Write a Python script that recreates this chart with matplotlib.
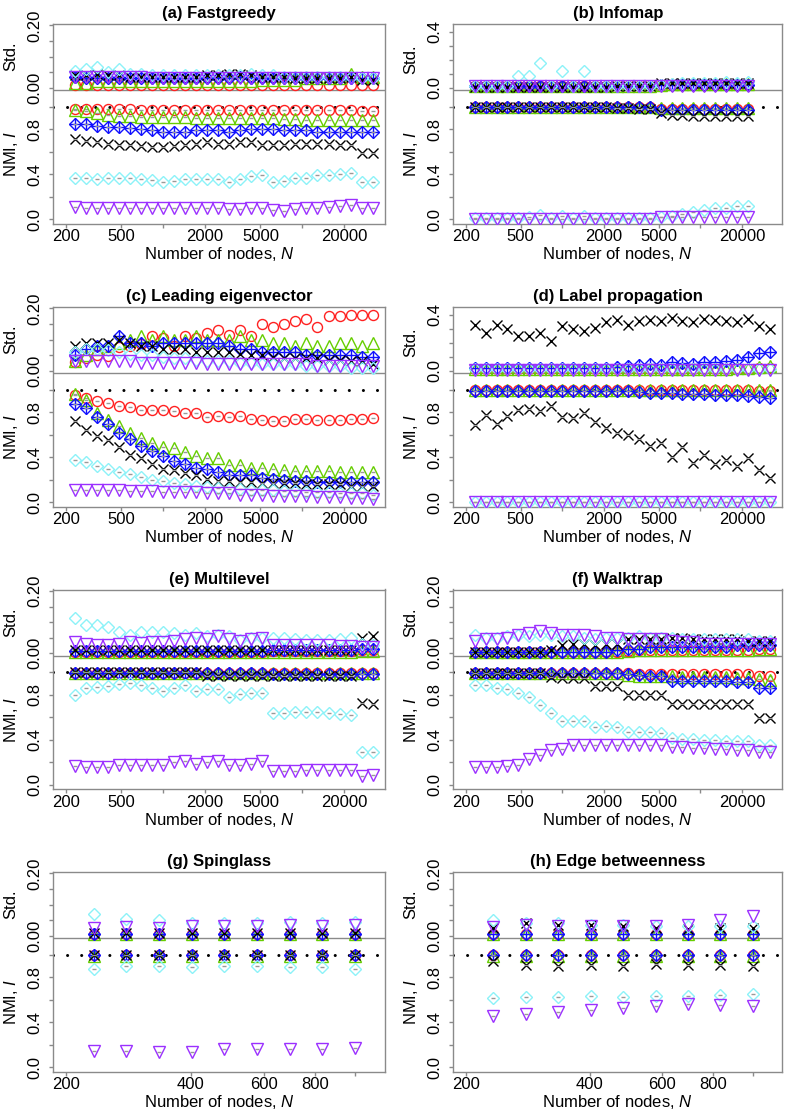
import matplotlib
matplotlib.use("Agg")
import matplotlib.pyplot as plt
import matplotlib.transforms as mtransforms
from matplotlib.ticker import NullLocator

plt.rcParams["font.family"] = "Liberation Sans"
plt.rcParams["mathtext.fontset"] = "custom"
plt.rcParams["mathtext.rm"] = "Liberation Sans"
plt.rcParams["mathtext.it"] = "Liberation Sans:italic"

# -----------------------------
# Data (series order: red, green, blue, black, cyan, purple)
# -----------------------------

n_large = [233, 279, 335, 402, 482, 579, 694, 833, 1000, 1200, 1440, 1728, 2074,
           2488, 2986, 3583, 4300, 5160, 6192, 7430, 8916, 10699, 12839, 15407,
           18488, 22186, 26623, 31948]
n_small = [233, 279, 335, 402, 482, 579, 694, 833, 1000]

fastgreedy_nmi = [
    [0.98, 0.98, 0.98, 0.98, 0.98, 0.98, 0.975, 0.975, 0.975, 0.975, 0.975, 0.975, 0.97, 0.97,
     0.97, 0.97, 0.97, 0.97, 0.97, 0.97, 0.97, 0.97, 0.97, 0.97, 0.97, 0.97, 0.965, 0.965],
    [0.97, 0.96, 0.94, 0.93, 0.92, 0.92, 0.91, 0.91, 0.91, 0.91, 0.91, 0.90, 0.90, 0.90,
     0.90, 0.90, 0.90, 0.90, 0.90, 0.89, 0.89, 0.88, 0.88, 0.88, 0.88, 0.88, 0.88, 0.88],
    [0.85, 0.85, 0.83, 0.82, 0.82, 0.81, 0.80, 0.79, 0.78, 0.78, 0.78, 0.79, 0.79, 0.79,
     0.78, 0.79, 0.80, 0.80, 0.80, 0.79, 0.79, 0.79, 0.78, 0.78, 0.78, 0.78, 0.78, 0.78],
    [0.71, 0.70, 0.69, 0.67, 0.66, 0.66, 0.65, 0.64, 0.64, 0.65, 0.66, 0.67, 0.69, 0.67,
     0.67, 0.69, 0.69, 0.66, 0.66, 0.66, 0.67, 0.67, 0.67, 0.67, 0.66, 0.66, 0.59, 0.59],
    [0.37, 0.365, 0.36, 0.37, 0.37, 0.365, 0.355, 0.35, 0.335, 0.345, 0.355, 0.355, 0.36, 0.36,
     0.335, 0.36, 0.385, 0.39, 0.335, 0.345, 0.365, 0.37, 0.39, 0.395, 0.40, 0.41, 0.335, 0.335],
    [0.11, 0.105, 0.10, 0.10, 0.105, 0.105, 0.10, 0.10, 0.10, 0.10, 0.105, 0.10, 0.10, 0.10,
     0.095, 0.095, 0.10, 0.10, 0.08, 0.075, 0.09, 0.10, 0.10, 0.11, 0.12, 0.13, 0.10, 0.10],
]
fastgreedy_std = [
    [0.008, 0.008, 0.008, 0.008, 0.008, 0.008, 0.008, 0.008, 0.008, 0.008, 0.008, 0.008, 0.008, 0.008,
     0.008, 0.008, 0.008, 0.008, 0.008, 0.008, 0.008, 0.008, 0.008, 0.008, 0.008, 0.008, 0.008, 0.008],
    [0.015, 0.015, 0.02, 0.02, 0.02, 0.02, 0.02, 0.02, 0.02, 0.02, 0.02, 0.02, 0.02, 0.02,
     0.02, 0.02, 0.02, 0.025, 0.025, 0.025, 0.025, 0.03, 0.03, 0.03, 0.03, 0.045, 0.035, 0.035],
    [0.035, 0.03, 0.03, 0.03, 0.03, 0.03, 0.03, 0.03, 0.03, 0.03, 0.03, 0.03, 0.03, 0.03,
     0.03, 0.035, 0.03, 0.03, 0.03, 0.03, 0.03, 0.03, 0.03, 0.03, 0.03, 0.03, 0.03, 0.03],
    [0.04, 0.04, 0.045, 0.04, 0.04, 0.035, 0.035, 0.035, 0.035, 0.035, 0.035, 0.035, 0.04, 0.04,
     0.045, 0.045, 0.04, 0.035, 0.035, 0.035, 0.03, 0.03, 0.03, 0.03, 0.03, 0.035, 0.025, 0.025],
    [0.055, 0.06, 0.068, 0.05, 0.06, 0.045, 0.045, 0.04, 0.04, 0.04, 0.04, 0.04, 0.04, 0.04,
     0.04, 0.04, 0.045, 0.04, 0.04, 0.035, 0.035, 0.035, 0.035, 0.035, 0.035, 0.035, 0.03, 0.03],
    [0.035, 0.035, 0.033, 0.033, 0.033, 0.033, 0.033, 0.03, 0.03, 0.03, 0.03, 0.03, 0.03, 0.03,
     0.03, 0.03, 0.03, 0.03, 0.03, 0.03, 0.03, 0.03, 0.03, 0.03, 0.03, 0.03, 0.03, 0.03],
]

infomap_nmi = [
    [1.0, 1.0, 1.0, 1.0, 1.0, 1.0, 1.0, 1.0, 1.0, 1.0, 1.0, 1.0, 1.0, 1.0, 1.0, 1.0, 1.0,
     0.98, 0.98, 0.98, 0.98, 0.98, 0.98, 0.98, 0.98, 0.98],
    [0.995, 0.995, 0.995, 0.995, 0.995, 0.995, 0.995, 0.995, 0.995, 0.995, 0.995, 0.995, 0.995,
     0.995, 0.995, 0.995, 0.995, 0.985, 0.985, 0.985, 0.985, 0.985, 0.985, 0.985, 0.985, 0.985],
    [1.0, 1.0, 1.0, 1.0, 1.0, 1.0, 1.0, 1.0, 1.0, 1.0, 1.0, 1.0, 1.0, 1.0, 1.0, 1.0, 1.0,
     0.975, 0.975, 0.975, 0.975, 0.975, 0.975, 0.975, 0.975, 0.975],
    [1.0, 1.0, 1.0, 1.0, 1.0, 1.0, 1.0, 1.0, 1.0, 1.0, 1.0, 1.0, 1.0, 0.99, 0.985, 0.98, 0.98,
     0.94, 0.93, 0.93, 0.92, 0.92, 0.92, 0.92, 0.92, 0.92],
    [0.01, 0.01, 0.01, 0.01, 0.015, 0.02, 0.04, 0.01, 0.03, 0.01, 0.03, 0.01, 0.01, 0.01,
     0.01, 0.01, 0.01, 0.02, 0.03, 0.05, 0.065, 0.085, 0.10, 0.10, 0.115, 0.115],
    [0.005, 0.005, 0.005, 0.005, 0.005, 0.005, 0.005, 0.005, 0.005, 0.005, 0.005, 0.005, 0.005,
     0.005, 0.005, 0.005, 0.005, 0.025, 0.025, 0.025, 0.025, 0.025, 0.025, 0.025, 0.025, 0.025],
]
infomap_std = [
    [0.01, 0.01, 0.01, 0.01, 0.01, 0.01, 0.01, 0.01, 0.01, 0.01, 0.01, 0.01, 0.01, 0.01, 0.01,
     0.01, 0.01, 0.02, 0.02, 0.02, 0.02, 0.02, 0.02, 0.02, 0.02, 0.02],
    [0.01, 0.01, 0.01, 0.01, 0.01, 0.01, 0.01, 0.01, 0.01, 0.01, 0.01, 0.01, 0.01, 0.01, 0.01,
     0.01, 0.01, 0.02, 0.025, 0.025, 0.025, 0.025, 0.025, 0.025, 0.025, 0.025],
    [0.015, 0.015, 0.015, 0.015, 0.015, 0.015, 0.015, 0.015, 0.015, 0.015, 0.015, 0.015, 0.015,
     0.015, 0.015, 0.015, 0.015, 0.02, 0.02, 0.02, 0.02, 0.02, 0.02, 0.02, 0.02, 0.02],
    [0.005, 0.005, 0.005, 0.005, 0.005, 0.005, 0.005, 0.005, 0.005, 0.005, 0.005, 0.005, 0.005,
     0.01, 0.01, 0.015, 0.015, 0.03, 0.03, 0.03, 0.03, 0.03, 0.03, 0.03, 0.03, 0.03],
    [0.015, 0.015, 0.015, 0.015, 0.083, 0.083, 0.174, 0.015, 0.12, 0.015, 0.12, 0.015, 0.015,
     0.015, 0.015, 0.015, 0.015, 0.02, 0.025, 0.03, 0.03, 0.035, 0.035, 0.04, 0.035, 0.04],
    [0.01, 0.01, 0.01, 0.01, 0.01, 0.01, 0.01, 0.01, 0.01, 0.01, 0.01, 0.01, 0.01, 0.01, 0.01,
     0.01, 0.01, 0.015, 0.015, 0.015, 0.015, 0.015, 0.015, 0.015, 0.015, 0.015],
]

eigen_nmi = [
    [0.95, 0.93, 0.90, 0.88, 0.86, 0.85, 0.82, 0.82, 0.82, 0.81, 0.795, 0.79, 0.76, 0.77,
     0.76, 0.77, 0.74, 0.73, 0.725, 0.725, 0.74, 0.74, 0.735, 0.735, 0.735, 0.74, 0.74, 0.745],
    [0.96, 0.91, 0.79, 0.73, 0.68, 0.62, 0.57, 0.53, 0.49, 0.48, 0.45, 0.41, 0.39, 0.39,
     0.33, 0.33, 0.31, 0.31, 0.30, 0.29, 0.28, 0.28, 0.28, 0.28, 0.27, 0.27, 0.27, 0.27],
    [0.87, 0.84, 0.76, 0.70, 0.62, 0.56, 0.50, 0.46, 0.415, 0.37, 0.34, 0.31, 0.30, 0.27,
     0.24, 0.24, 0.24, 0.22, 0.21, 0.20, 0.19, 0.19, 0.18, 0.18, 0.18, 0.18, 0.18, 0.18],
    [0.72, 0.64, 0.59, 0.55, 0.49, 0.42, 0.39, 0.34, 0.30, 0.29, 0.26, 0.24, 0.21, 0.19,
     0.19, 0.18, 0.18, 0.17, 0.17, 0.17, 0.17, 0.16, 0.16, 0.16, 0.16, 0.15, 0.15, 0.15],
    [0.38, 0.36, 0.32, 0.30, 0.27, 0.25, 0.23, 0.20, 0.19, 0.17, 0.16, 0.15, 0.14, 0.13,
     0.12, 0.12, 0.11, 0.11, 0.11, 0.10, 0.10, 0.09, 0.09, 0.09, 0.08, 0.08, 0.08, 0.07],
    [0.11, 0.11, 0.11, 0.11, 0.11, 0.10, 0.10, 0.10, 0.09, 0.09, 0.09, 0.09, 0.08, 0.08,
     0.08, 0.07, 0.07, 0.07, 0.06, 0.06, 0.06, 0.06, 0.05, 0.05, 0.05, 0.04, 0.04, 0.03],
]
eigen_std = [
    [0.027, 0.042, 0.05, 0.048, 0.075, 0.08, 0.085, 0.11, 0.105, 0.08, 0.11, 0.105, 0.12, 0.13,
     0.115, 0.13, 0.11, 0.15, 0.14, 0.15, 0.16, 0.165, 0.14, 0.175, 0.175, 0.18, 0.18, 0.18],
    [0.03, 0.05, 0.07, 0.08, 0.09, 0.10, 0.11, 0.10, 0.11, 0.10, 0.10, 0.11, 0.10, 0.10,
     0.10, 0.11, 0.10, 0.10, 0.09, 0.09, 0.08, 0.09, 0.08, 0.08, 0.09, 0.09, 0.08, 0.09],
    [0.05, 0.07, 0.08, 0.08, 0.11, 0.09, 0.09, 0.08, 0.09, 0.09, 0.09, 0.09, 0.09, 0.09,
     0.08, 0.07, 0.07, 0.06, 0.06, 0.06, 0.06, 0.05, 0.05, 0.05, 0.05, 0.05, 0.045, 0.045],
    [0.08, 0.09, 0.09, 0.09, 0.10, 0.09, 0.08, 0.08, 0.07, 0.07, 0.07, 0.06, 0.06, 0.06,
     0.06, 0.055, 0.05, 0.05, 0.045, 0.04, 0.04, 0.04, 0.04, 0.035, 0.035, 0.03, 0.03, 0.02],
    [0.06, 0.07, 0.07, 0.065, 0.06, 0.055, 0.05, 0.05, 0.045, 0.04, 0.04, 0.035, 0.03, 0.03,
     0.03, 0.025, 0.025, 0.02, 0.02, 0.02, 0.02, 0.015, 0.015, 0.015, 0.015, 0.01, 0.01, 0.01],
    [0.03, 0.03, 0.03, 0.03, 0.03, 0.03, 0.025, 0.025, 0.025, 0.025, 0.025, 0.025, 0.02, 0.02,
     0.02, 0.02, 0.02, 0.02, 0.02, 0.02, 0.02, 0.02, 0.015, 0.015, 0.015, 0.015, 0.015, 0.015],
]

labelprop_nmi = [
    [1.0, 1.0, 1.0, 1.0, 1.0, 1.0, 1.0, 1.0, 1.0, 1.0, 1.0, 1.0, 1.0, 1.0,
     1.0, 1.0, 1.0, 1.0, 1.0, 1.0, 1.0, 1.0, 1.0, 1.0, 0.995, 0.995, 0.99, 0.99],
    [0.995, 0.995, 0.995, 0.995, 0.995, 0.995, 0.995, 0.995, 0.995, 0.995, 0.995, 0.995, 0.995, 0.995,
     0.995, 0.995, 0.995, 0.995, 0.995, 0.995, 0.995, 0.995, 0.995, 0.995, 0.995, 0.995, 0.995, 0.995],
    [0.985, 0.985, 0.985, 0.985, 0.985, 0.985, 0.985, 0.985, 0.985, 0.985, 0.985, 0.985, 0.985,
     0.985, 0.985, 0.98, 0.975, 0.97, 0.97, 0.965, 0.96, 0.96, 0.955, 0.95, 0.95, 0.945, 0.935, 0.93],
    [0.69, 0.78, 0.70, 0.77, 0.82, 0.83, 0.81, 0.86, 0.76, 0.75, 0.79, 0.71, 0.66, 0.62,
     0.60, 0.56, 0.50, 0.53, 0.40, 0.49, 0.35, 0.42, 0.34, 0.38, 0.32, 0.39, 0.29, 0.22],
    [0.005, 0.005, 0.005, 0.005, 0.005, 0.005, 0.005, 0.005, 0.005, 0.005, 0.005, 0.005, 0.005, 0.005,
     0.005, 0.005, 0.005, 0.005, 0.005, 0.005, 0.005, 0.005, 0.005, 0.005, 0.005, 0.005, 0.005, 0.005],
    [0.0, 0.0, 0.0, 0.0, 0.0, 0.0, 0.0, 0.0, 0.0, 0.0, 0.0, 0.0, 0.0, 0.0,
     0.0, 0.0, 0.0, 0.0, 0.0, 0.0, 0.0, 0.0, 0.0, 0.0, 0.0, 0.0, 0.0, 0.0],
]
labelprop_std = [
    [0.01, 0.01, 0.01, 0.01, 0.01, 0.01, 0.01, 0.01, 0.01, 0.01, 0.01, 0.01, 0.01, 0.01,
     0.01, 0.01, 0.01, 0.01, 0.01, 0.01, 0.01, 0.01, 0.01, 0.01, 0.015, 0.015, 0.02, 0.02],
    [0.015, 0.015, 0.015, 0.015, 0.015, 0.015, 0.015, 0.015, 0.015, 0.015, 0.015, 0.015, 0.015, 0.015,
     0.015, 0.015, 0.015, 0.015, 0.015, 0.015, 0.015, 0.015, 0.015, 0.015, 0.02, 0.02, 0.025, 0.03],
    [0.02, 0.02, 0.02, 0.02, 0.02, 0.02, 0.02, 0.02, 0.02, 0.02, 0.02, 0.02, 0.02, 0.025,
     0.03, 0.04, 0.05, 0.04, 0.06, 0.055, 0.05, 0.06, 0.06, 0.07, 0.08, 0.10, 0.13, 0.135],
    [0.33, 0.27, 0.33, 0.30, 0.245, 0.25, 0.27, 0.21, 0.32, 0.30, 0.285, 0.305, 0.35, 0.365,
     0.33, 0.355, 0.365, 0.355, 0.38, 0.355, 0.35, 0.37, 0.36, 0.355, 0.345, 0.37, 0.32, 0.30],
    [0.01, 0.01, 0.01, 0.01, 0.01, 0.01, 0.01, 0.01, 0.01, 0.01, 0.01, 0.01, 0.01, 0.01,
     0.01, 0.01, 0.01, 0.01, 0.01, 0.01, 0.01, 0.01, 0.01, 0.01, 0.01, 0.01, 0.01, 0.01],
    [0.005, 0.005, 0.005, 0.005, 0.005, 0.005, 0.005, 0.005, 0.005, 0.005, 0.005, 0.005, 0.005, 0.005,
     0.005, 0.005, 0.005, 0.005, 0.005, 0.005, 0.005, 0.005, 0.005, 0.005, 0.005, 0.005, 0.005, 0.005],
]

multilevel_nmi = [
    [0.995, 0.995, 0.995, 0.995, 0.995, 0.995, 0.995, 0.995, 0.995, 0.995, 0.995, 0.995, 0.995, 0.995,
     0.995, 0.995, 0.995, 0.995, 0.99, 0.99, 0.99, 0.99, 0.99, 0.99, 0.99, 0.99, 0.99, 0.99],
    [0.99, 0.99, 0.99, 0.99, 0.99, 0.99, 0.99, 0.99, 0.99, 0.99, 0.99, 0.99, 0.99, 0.99,
     0.99, 0.99, 0.99, 0.99, 0.99, 0.99, 0.99, 0.99, 0.99, 0.99, 0.99, 0.99, 0.99, 0.99],
    [0.995, 0.995, 0.995, 0.995, 0.995, 0.995, 0.995, 0.995, 0.995, 0.995, 0.995, 0.995, 0.995, 0.995,
     0.99, 0.99, 0.99, 0.99, 0.985, 0.985, 0.985, 0.985, 0.985, 0.985, 0.985, 0.985, 0.985, 0.985],
    [1.0, 1.0, 1.0, 1.0, 1.0, 1.0, 1.0, 1.0, 1.0, 1.0, 1.0, 1.0, 0.97, 0.97,
     0.97, 0.97, 0.97, 0.97, 0.97, 0.97, 0.97, 0.97, 0.97, 0.97, 0.97, 0.97, 0.73, 0.72],
    [0.80, 0.86, 0.87, 0.876, 0.897, 0.906, 0.888, 0.86, 0.83, 0.86, 0.89, 0.83, 0.853, 0.853,
     0.78, 0.81, 0.82, 0.82, 0.64, 0.64, 0.647, 0.65, 0.647, 0.64, 0.632, 0.62, 0.29, 0.29],
    [0.168, 0.163, 0.163, 0.163, 0.176, 0.18, 0.176, 0.18, 0.176, 0.20, 0.215, 0.19, 0.20, 0.215,
     0.176, 0.18, 0.19, 0.21, 0.12, 0.12, 0.12, 0.13, 0.13, 0.13, 0.13, 0.13, 0.08, 0.09],
]
multilevel_std = [
    [0.005, 0.005, 0.005, 0.005, 0.005, 0.005, 0.005, 0.005, 0.005, 0.005, 0.005, 0.005, 0.005, 0.005,
     0.005, 0.005, 0.005, 0.005, 0.008, 0.008, 0.008, 0.008, 0.008, 0.008, 0.008, 0.008, 0.01, 0.01],
    [0.005, 0.005, 0.005, 0.005, 0.005, 0.005, 0.005, 0.005, 0.005, 0.005, 0.005, 0.005, 0.005, 0.005,
     0.005, 0.005, 0.005, 0.005, 0.005, 0.005, 0.005, 0.005, 0.005, 0.005, 0.005, 0.005, 0.008, 0.008],
    [0.008, 0.008, 0.008, 0.008, 0.008, 0.008, 0.008, 0.008, 0.008, 0.008, 0.008, 0.008, 0.008, 0.008,
     0.008, 0.008, 0.008, 0.008, 0.01, 0.01, 0.01, 0.01, 0.01, 0.01, 0.01, 0.01, 0.012, 0.012],
    [0.01, 0.01, 0.01, 0.01, 0.01, 0.01, 0.01, 0.01, 0.01, 0.01, 0.01, 0.01, 0.01, 0.01,
     0.01, 0.01, 0.01, 0.01, 0.01, 0.01, 0.01, 0.01, 0.01, 0.01, 0.01, 0.01, 0.05, 0.055],
    [0.113, 0.092, 0.089, 0.083, 0.068, 0.06, 0.068, 0.068, 0.068, 0.065, 0.06, 0.065, 0.054, 0.06,
     0.054, 0.043, 0.049, 0.05, 0.05, 0.049, 0.047, 0.043, 0.043, 0.043, 0.047, 0.049, 0.03, 0.027],
    [0.035, 0.03, 0.027, 0.027, 0.03, 0.035, 0.033, 0.035, 0.035, 0.04, 0.045, 0.05, 0.045, 0.055,
     0.045, 0.04, 0.045, 0.05, 0.025, 0.025, 0.025, 0.025, 0.025, 0.025, 0.022, 0.022, 0.02, 0.02],
]

walktrap_nmi = [
    [0.995, 0.995, 0.995, 0.995, 0.995, 0.995, 0.995, 0.995, 0.995, 0.995, 0.995, 0.995, 0.995, 0.995,
     0.995, 0.985, 0.985, 0.985, 0.985, 0.985, 0.985, 0.985, 0.985, 0.985, 0.985, 0.985, 0.97, 0.97],
    [0.99, 0.99, 0.99, 0.99, 0.99, 0.99, 0.99, 0.99, 0.99, 0.99, 0.99, 0.99, 0.99, 0.99,
     0.975, 0.97, 0.97, 0.97, 0.965, 0.96, 0.96, 0.96, 0.955, 0.955, 0.95, 0.95, 0.94, 0.935],
    [0.995, 0.995, 0.995, 0.995, 0.995, 0.995, 0.995, 0.995, 0.995, 0.995, 0.995, 0.995, 0.995, 0.995,
     0.98, 0.975, 0.97, 0.97, 0.925, 0.925, 0.92, 0.92, 0.92, 0.92, 0.915, 0.915, 0.86, 0.86],
    [0.995, 0.995, 0.995, 0.995, 0.995, 0.995, 0.995, 0.96, 0.95, 0.95, 0.95, 0.88, 0.88, 0.88,
     0.80, 0.80, 0.80, 0.80, 0.72, 0.72, 0.72, 0.72, 0.72, 0.72, 0.72, 0.72, 0.59, 0.59],
    [0.89, 0.89, 0.86, 0.85, 0.82, 0.78, 0.71, 0.64, 0.57, 0.57, 0.57, 0.51, 0.52, 0.51,
     0.47, 0.47, 0.47, 0.46, 0.42, 0.41, 0.41, 0.40, 0.40, 0.39, 0.39, 0.39, 0.35, 0.35],
    [0.16, 0.16, 0.16, 0.17, 0.18, 0.23, 0.27, 0.31, 0.32, 0.35, 0.35, 0.35, 0.35, 0.35,
     0.35, 0.35, 0.35, 0.35, 0.34, 0.34, 0.33, 0.33, 0.32, 0.32, 0.31, 0.31, 0.29, 0.29],
]
walktrap_std = [
    [0.005, 0.005, 0.005, 0.005, 0.005, 0.005, 0.005, 0.005, 0.005, 0.005, 0.005, 0.005, 0.005, 0.005,
     0.008, 0.01, 0.01, 0.01, 0.01, 0.01, 0.01, 0.01, 0.01, 0.01, 0.01, 0.01, 0.012, 0.012],
    [0.005, 0.005, 0.005, 0.005, 0.005, 0.005, 0.005, 0.005, 0.005, 0.005, 0.005, 0.005, 0.005, 0.005,
     0.008, 0.01, 0.01, 0.01, 0.01, 0.01, 0.01, 0.01, 0.01, 0.01, 0.01, 0.01, 0.012, 0.012],
    [0.005, 0.005, 0.005, 0.005, 0.005, 0.005, 0.005, 0.005, 0.005, 0.005, 0.005, 0.005, 0.005, 0.01,
     0.015, 0.015, 0.02, 0.02, 0.02, 0.02, 0.02, 0.02, 0.02, 0.02, 0.025, 0.025, 0.025, 0.025],
    [0.005, 0.005, 0.005, 0.005, 0.005, 0.005, 0.005, 0.01, 0.027, 0.03, 0.03, 0.025, 0.03, 0.03,
     0.045, 0.045, 0.045, 0.045, 0.05, 0.05, 0.045, 0.045, 0.045, 0.045, 0.045, 0.04, 0.04, 0.04],
    [0.06, 0.05, 0.05, 0.055, 0.06, 0.055, 0.06, 0.06, 0.055, 0.055, 0.05, 0.045, 0.05, 0.05,
     0.05, 0.055, 0.05, 0.05, 0.05, 0.045, 0.045, 0.045, 0.045, 0.045, 0.045, 0.045, 0.04, 0.04],
    [0.04, 0.045, 0.045, 0.05, 0.06, 0.065, 0.07, 0.065, 0.06, 0.06, 0.06, 0.055, 0.05, 0.05,
     0.045, 0.045, 0.045, 0.045, 0.04, 0.035, 0.035, 0.03, 0.03, 0.03, 0.03, 0.03, 0.03, 0.03],
]

spinglass_nmi = [
    [0.995, 0.995, 0.995, 0.995, 0.995, 0.995, 0.995, 0.995, 0.995],
    [0.99, 0.99, 0.99, 0.99, 0.99, 0.99, 0.99, 0.99, 0.99],
    [0.995, 0.995, 0.995, 0.995, 0.995, 0.995, 0.995, 0.995, 0.995],
    [1.0, 1.0, 1.0, 1.0, 1.0, 1.0, 1.0, 1.0, 1.0],
    [0.876, 0.90, 0.90, 0.895, 0.90, 0.90, 0.895, 0.89, 0.87],
    [0.15, 0.15, 0.14, 0.14, 0.16, 0.165, 0.165, 0.165, 0.17],
]
spinglass_std = [
    [0.005, 0.005, 0.005, 0.005, 0.005, 0.005, 0.005, 0.005, 0.005],
    [0.005, 0.005, 0.005, 0.005, 0.005, 0.005, 0.005, 0.005, 0.005],
    [0.006, 0.006, 0.006, 0.006, 0.006, 0.006, 0.006, 0.006, 0.006],
    [0.008, 0.008, 0.008, 0.008, 0.008, 0.008, 0.008, 0.008, 0.008],
    [0.07, 0.055, 0.05, 0.04, 0.04, 0.04, 0.045, 0.04, 0.045],
    [0.025, 0.028, 0.025, 0.03, 0.03, 0.03, 0.035, 0.03, 0.035],
]

betweenness_nmi = [
    [0.995, 0.995, 0.995, 0.995, 0.995, 0.995, 0.995, 0.995, 0.995],
    [0.99, 0.99, 0.99, 0.99, 0.99, 0.99, 0.99, 0.99, 0.99],
    [0.995, 0.995, 0.995, 0.995, 0.995, 0.995, 0.995, 0.995, 0.995],
    [0.947, 0.91, 0.90, 0.91, 0.90, 0.915, 0.91, 0.91, 0.90],
    [0.612, 0.624, 0.624, 0.632, 0.626, 0.632, 0.635, 0.644, 0.653],
    [0.456, 0.47, 0.49, 0.506, 0.524, 0.544, 0.56, 0.553, 0.544],
]
betweenness_std = [
    [0.005, 0.005, 0.005, 0.005, 0.005, 0.005, 0.005, 0.005, 0.005],
    [0.005, 0.005, 0.005, 0.005, 0.005, 0.005, 0.005, 0.005, 0.005],
    [0.006, 0.006, 0.006, 0.006, 0.006, 0.006, 0.006, 0.006, 0.006],
    [0.025, 0.04, 0.035, 0.035, 0.03, 0.025, 0.02, 0.025, 0.025],
    [0.049, 0.04, 0.04, 0.035, 0.035, 0.03, 0.03, 0.03, 0.03],
    [0.028, 0.035, 0.03, 0.03, 0.03, 0.03, 0.035, 0.052, 0.063],
]

# -----------------------------
# Styles
# -----------------------------

GRAY = "#8a8a8a"
colors = ["#ff2020", "#66cd00", "#1010ff", "black", "#8cf2f8", "#9b30ff"]
markers = ["o", "^", "D", "x", "D", "v"]
sizes = [7.2, 8.0, 6.1, 7.2, 6.1, 8.0]

STD_BASE = 1.169
SEP_Y = 1.146
YLIM = (-0.036, 1.734)

fig = plt.figure(figsize=(7.87, 11.15), dpi=100)


def add_panel(left_px, top_px, width_px, height_px):
    return fig.add_axes([left_px / 787, 1 - (top_px + height_px) / 1115,
                         width_px / 787, height_px / 1115])


def draw_panel(ax, title, n, nmi, std, std_top, small):
    std_scale = 0.552 / std_top if std_top < 0.3 else 0.496 / std_top

    ax.axhline(1.0, color="black", lw=2.2, ls=(0, (0.01, 4.6)),
               dash_capstyle="round", zorder=1)
    ax.axhline(SEP_Y, color=GRAY, lw=1.0, zorder=1)

    for i in range(6):
        xs = n[:len(nmi[i])]
        std_y = [STD_BASE + s * std_scale for s in std[i]]
        for ys in (nmi[i], std_y):
            ax.plot(xs, ys, ls="none", marker=markers[i], ms=sizes[i],
                    mfc="none", mec=colors[i], mew=1.0, zorder=3 + i)
            if i == 2:
                ax.plot(xs, ys, ls="none", marker="+", ms=8.6,
                        mec=colors[i], mew=1.0, zorder=3 + i)
        ax.plot(xs, nmi[i], ls="none", marker="_", ms=3, mec="#999999",
                mew=1.0, zorder=3 + i)

    ax.set_xscale("log")
    if small:
        ax.set_xlim(186, 1180)
        ax.set_xticks([200, 400, 600, 800, 1000])
        ax.set_xticklabels(["200", "400", "600", "800", ""])
    else:
        ax.set_xlim(163, 39200)
        ax.set_xticks([200, 500, 1000, 2000, 5000, 10000, 20000])
        ax.set_xticklabels(["200", "500", "", "2000", "5000", "", "20000"])
    ax.xaxis.set_minor_locator(NullLocator())

    ax.set_ylim(*YLIM)
    if std_top < 0.3:
        std_ticks = [0, 0.05, 0.10, 0.15, 0.20]
        std_labels = ["0.00", "", "", "", "0.20"]
    else:
        std_ticks = [0, 0.1, 0.2, 0.3, 0.4]
        std_labels = ["0.0", "", "", "", "0.4"]
    ytick_pos = [0, 0.2, 0.4, 0.6, 0.8, 1.0] + [STD_BASE + t * std_scale for t in std_ticks]
    ytick_lab = ["0.0", "", "0.4", "", "0.8", ""] + std_labels
    ax.set_yticks(ytick_pos)
    ax.set_yticklabels(ytick_lab, rotation=90, va="center")
    ax.yaxis.set_minor_locator(NullLocator())

    ax.tick_params(axis="both", colors=GRAY, labelcolor="black",
                   labelsize=12, length=3, width=1, direction="out")
    ax.tick_params(axis="x", pad=1)
    ax.tick_params(axis="y", pad=5)
    for sp in ax.spines.values():
        sp.set_color(GRAY)
        sp.set_linewidth(1)

    ax.set_title(title, fontsize=12, fontweight="bold", pad=4)
    ax.set_xlabel("Number of nodes, $N$", fontsize=12, labelpad=1)

    trans = mtransforms.blended_transform_factory(ax.transAxes, ax.transData)
    ax.text(-0.128, STD_BASE + 0.5 * std_top * std_scale, "Std.", transform=trans,
            rotation=90, ha="center", va="center", fontsize=12)
    ax.text(-0.128, 0.58, "NMI, $I$", transform=trans,
            rotation=90, ha="center", va="center", fontsize=12)


panels = [
    ("(a) Fastgreedy", n_large, fastgreedy_nmi, fastgreedy_std, 0.20, False),
    ("(b) Infomap", n_large, infomap_nmi, infomap_std, 0.4, False),
    ("(c) Leading eigenvector", n_large, eigen_nmi, eigen_std, 0.20, False),
    ("(d) Label propagation", n_large, labelprop_nmi, labelprop_std, 0.4, False),
    ("(e) Multilevel", n_large, multilevel_nmi, multilevel_std, 0.20, False),
    ("(f) Walktrap", n_large, walktrap_nmi, walktrap_std, 0.20, False),
    ("(g) Spinglass", n_small, spinglass_nmi, spinglass_std, 0.20, True),
    ("(h) Edge betweenness", n_small, betweenness_nmi, betweenness_std, 0.20, True),
]

tops = [24, 307, 589.5, 872]
lefts = [53.3, 453.3]
widths = [331.7, 329]

for idx, (title, n, nmi, std, std_top, small) in enumerate(panels):
    row, col = divmod(idx, 2)
    ax = add_panel(lefts[col], tops[row], widths[col], 199.5)
    draw_panel(ax, title, n, nmi, std, std_top, small)

fig.savefig("out.png", dpi=100)
